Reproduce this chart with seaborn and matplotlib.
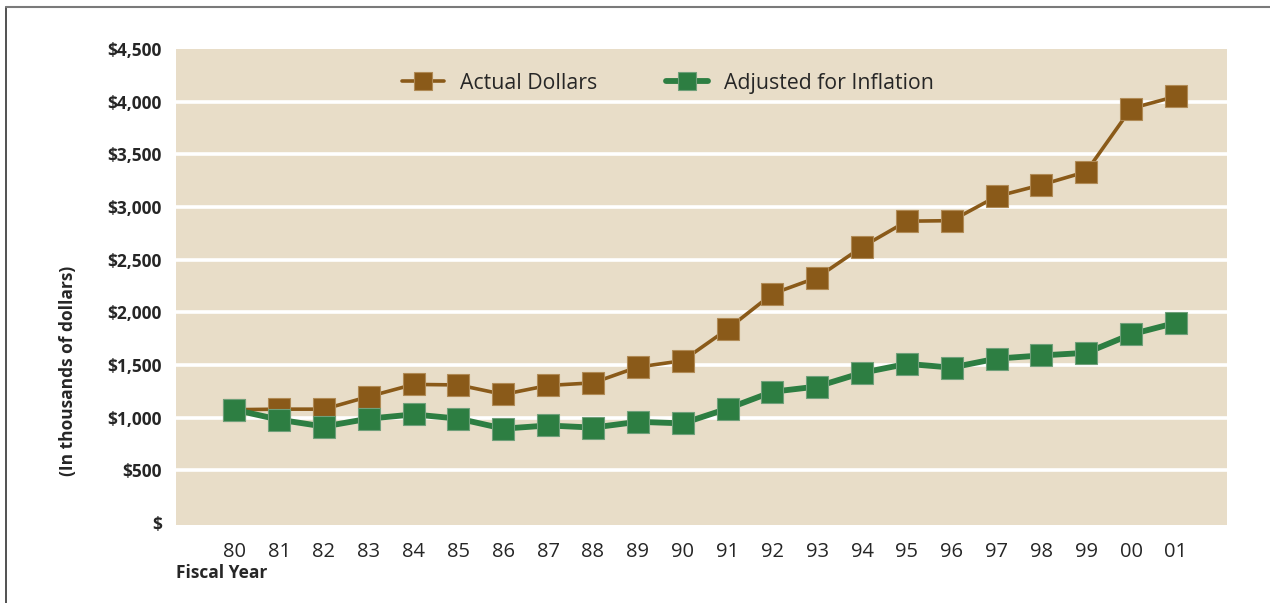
import matplotlib
matplotlib.use("Agg")
import matplotlib.pyplot as plt
import seaborn as sns
import pandas as pd

# ==================== DATA ====================

years = ["80", "81", "82", "83", "84", "85", "86", "87", "88", "89", "90",
         "91", "92", "93", "94", "95", "96", "97", "98", "99", "00", "01"]
actual_dollars = [1075, 1080, 1080, 1200, 1315, 1310, 1220, 1305, 1330, 1480, 1540,
                  1840, 2175, 2330, 2620, 2865, 2870, 3100, 3210, 3335, 3935, 4050]
adjusted_inflation = [1075, 980, 915, 990, 1030, 990, 895, 925, 905, 960, 945,
                      1085, 1245, 1295, 1425, 1510, 1475, 1560, 1590, 1615, 1790, 1900]
y_ticks = [0, 500, 1000, 1500, 2000, 2500, 3000, 3500, 4000, 4500]
y_tick_labels = ["$", "$500", "$1,000", "$1,500", "$2,000", "$2,500",
                 "$3,000", "$3,500", "$4,000", "$4,500"]

BROWN = "#8A5A19"
GREEN = "#2D7E42"
BG = "#E8DDC8"

# ==================== PLOT ====================

sns.set_style("white")
plt.rcParams['font.family'] = ['Open Sans', 'DejaVu Sans']

df = pd.DataFrame({"x": range(len(years)),
                   "actual": actual_dollars,
                   "adjusted": adjusted_inflation})

fig = plt.figure(figsize=(12.7, 6.03), dpi=100)
ax = fig.add_axes([176 / 1270, 1 - 525 / 603, (1227 - 176) / 1270, (525 - 49) / 603])
ax.set_facecolor(BG)

sns.lineplot(data=df, x="x", y="actual", ax=ax, color=BROWN, linewidth=2.6,
             marker="s", markersize=15.5, markeredgecolor="#B08A55",
             markeredgewidth=0.8, label="Actual Dollars", zorder=3)
sns.lineplot(data=df, x="x", y="adjusted", ax=ax, color=GREEN, linewidth=4.2,
             marker="s", markersize=15.5, markeredgecolor="#6FA07A",
             markeredgewidth=0.8, label="Adjusted for Inflation", zorder=4)

ax.set_xlim(-1.3, 22.14)
ax.set_ylim(-20, 4500)
ax.set_yticks(y_ticks)
ax.set_yticklabels(y_tick_labels, fontweight="bold", fontsize=12.5)
ax.set_xticks(range(len(years)))
ax.set_xticklabels(years, fontsize=14.5)
ax.tick_params(axis="y", length=0, pad=10)
ax.tick_params(axis="x", length=0, pad=12)
ax.set_xlabel("")
ax.set_ylabel("")

for yv in y_ticks[1:-1]:
    ax.axhline(yv, color="white", linewidth=2.6, zorder=1)

for s in ax.spines.values():
    s.set_visible(False)

leg = ax.legend(loc="upper center", bbox_to_anchor=(0.468, 0.99), ncol=2,
                frameon=False, fontsize=15.3, handlelength=2.0,
                columnspacing=3.2, handletextpad=0.75, markerscale=0.8)

fig.text(176 / 1270, 1 - 573 / 603, "Fiscal Year", fontsize=12.5, fontweight="bold",
         ha="left", va="center")
fig.text(68 / 1270, 1 - 371 / 603, "(In thousands of dollars)", fontsize=12.5,
         fontweight="bold", rotation=90, ha="center", va="center")

# frame lines around the figure
fig.add_artist(plt.Line2D([6 / 1270, 6 / 1270], [0, 1 - 7 / 603],
                          transform=fig.transFigure, color="#333333", linewidth=1.2))
fig.add_artist(plt.Line2D([6 / 1270, 1], [1 - 7 / 603, 1 - 7 / 603],
                          transform=fig.transFigure, color="#7a7a7a", linewidth=1.5))

fig.savefig("out.png", dpi=100)
